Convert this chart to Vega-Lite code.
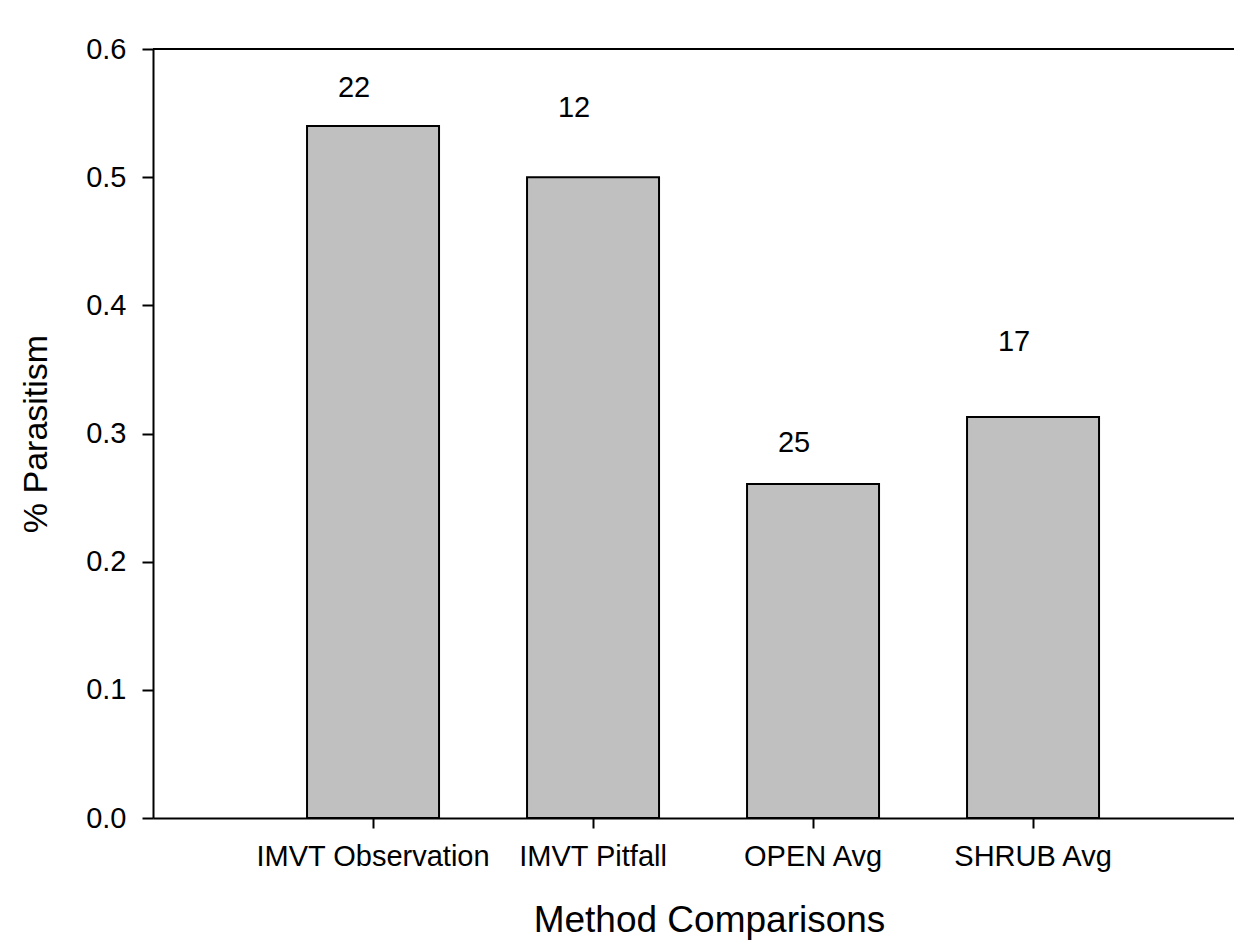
{
  "$schema": "https://vega.github.io/schema/vega-lite/v6.json",
  "width": 1081,
  "height": 769,
  "autosize": {"type": "none"},
  "padding": {"left": 153, "top": 49, "right": 0, "bottom": 130},
  "background": "white",
  "config": {
    "font": "Liberation Sans",
    "view": {"stroke": null},
    "axis": {"grid": false, "domainColor": "black", "tickColor": "black", "labelColor": "black", "titleColor": "black", "domainWidth": 2, "tickWidth": 2, "labelFont": "Liberation Sans", "titleFont": "Liberation Sans", "titleFontWeight": "normal", "labelLimit": 0}
  },
  "data": {
    "values": [
      {"method": "IMVT Observation", "parasitism": 0.54, "n": 22, "labelPos": 0.5696},
      {"method": "IMVT Pitfall", "parasitism": 0.50, "n": 12, "labelPos": 0.554},
      {"method": "OPEN Avg", "parasitism": 0.2606, "n": 25, "labelPos": 0.2926},
      {"method": "SHRUB Avg", "parasitism": 0.3129, "n": 17, "labelPos": 0.3714}
    ]
  },
  "layer": [
    {
      "mark": {"type": "bar", "fill": "#c0c0c0", "stroke": "black", "strokeWidth": 2},
      "encoding": {
        "x": {
          "field": "method",
          "type": "nominal",
          "sort": null,
          "scale": {"paddingInner": 0.4, "paddingOuter": 0.6568, "align": 0.533, "round": false},
          "axis": {"title": "Method Comparisons", "labelAngle": 0, "labelFontSize": 29, "titleFontSize": 37, "tickSize": 10, "labelPadding": 14, "titlePadding": 31, "titleX": 556}
        },
        "y": {
          "field": "parasitism",
          "type": "quantitative",
          "scale": {"domain": [0, 0.6], "nice": false},
          "axis": {"title": "% Parasitism", "values": [0, 0.1, 0.2, 0.3, 0.4, 0.5, 0.6], "format": ".1f", "labelFontSize": 29, "titleFontSize": 34, "tickSize": 11, "labelPadding": 16, "titlePadding": 32}
        }
      }
    },
    {
      "mark": {"type": "text", "fontSize": 29, "baseline": "middle", "align": "center", "dx": -19, "color": "black"},
      "encoding": {
        "x": {"field": "method", "type": "nominal", "sort": null},
        "y": {"field": "labelPos", "type": "quantitative"},
        "text": {"field": "n", "type": "quantitative"}
      }
    },
    {
      "mark": {"type": "rule", "color": "black", "strokeWidth": 2},
      "encoding": {"y": {"datum": 0.6}}
    }
  ]
}
